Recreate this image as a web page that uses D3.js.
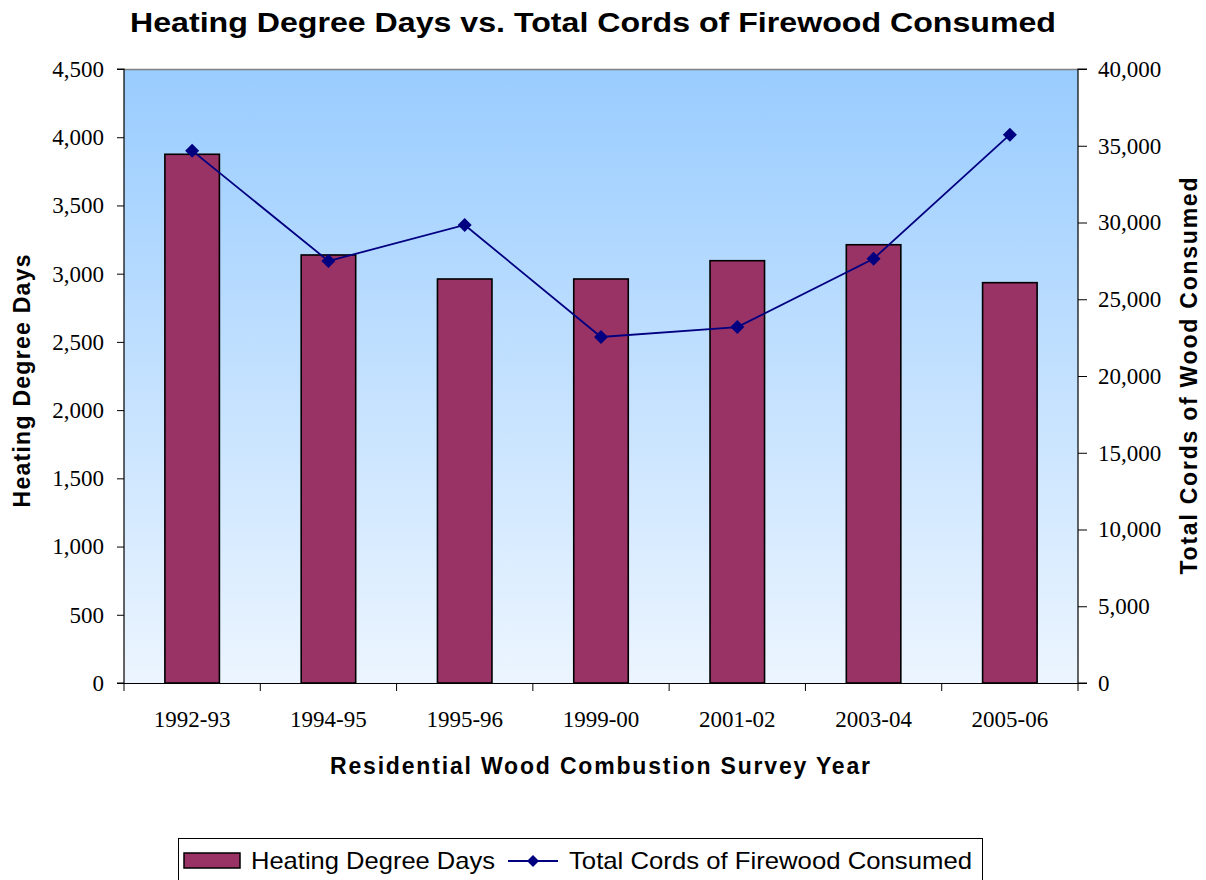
<!DOCTYPE html>
<html><head><meta charset="utf-8">
<script src="https://cdn.jsdelivr.net/npm/d3@7/dist/d3.min.js"></script>
<style>body{margin:0;background:#fff}</style>
</head><body>
<svg id="c" width="1206" height="880"></svg>
<script>
const categories = ["1992-93","1994-95","1995-96","1999-00","2001-02","2003-04","2005-06"];
const heatingDegreeDays = [3875, 3137, 2961, 2961, 3095, 3212, 2934];
const cordsConsumed = [34680, 27490, 29840, 22540, 23190, 27640, 35720];
const leftTicks = [0,500,1000,1500,2000,2500,3000,3500,4000,4500];
const rightTicks = [0,5000,10000,15000,20000,25000,30000,35000,40000];

const svg = d3.select("#c");
const L = 124, R = 1078, T = 69, B = 683;
const defs = svg.append("defs");
const g = defs.append("linearGradient").attr("id","bg").attr("x1",0).attr("y1",0).attr("x2",0).attr("y2",1);
g.append("stop").attr("offset","0%").attr("stop-color","#99CCFF");
g.append("stop").attr("offset","100%").attr("stop-color","#ECF5FF");

svg.append("rect").attr("x",L).attr("y",T).attr("width",R-L).attr("height",B-T).attr("fill","url(#bg)");
svg.append("line").attr("x1",L).attr("x2",R).attr("y1",T+0.5).attr("y2",T+0.5).attr("stroke","#808080").attr("stroke-width",1.5);

const xb = d3.scaleBand().domain(categories).range([L,R]);
const yL = d3.scaleLinear().domain([0,4500]).range([B,T]);
const yR = d3.scaleLinear().domain([0,40000]).range([B,T]);

svg.selectAll("rect.bar").data(heatingDegreeDays).join("rect").attr("class","bar")
  .attr("x",(d,i)=>xb(categories[i]) + xb.bandwidth()*0.3)
  .attr("width",xb.bandwidth()*0.4)
  .attr("y",d=>yL(d)).attr("height",d=>B-yL(d))
  .attr("fill","#993366").attr("stroke","#000").attr("stroke-width",1.6);

const fmt = d3.format(",");
const axL = svg.append("g").attr("transform",`translate(${L},0)`)
  .call(d3.axisLeft(yL).tickValues(leftTicks).tickFormat(fmt).tickSize(7).tickPadding(13));
const axR = svg.append("g").attr("transform",`translate(${R},0)`)
  .call(d3.axisRight(yR).tickValues(rightTicks).tickFormat(fmt).tickSize(9).tickPadding(11));
const axB = svg.append("g").attr("transform",`translate(0,${B})`)
  .call(d3.axisBottom(xb).tickSize(0).tickPadding(28));
const bounds = categories.map(c=>xb(c)).concat([R]);
svg.append("g").selectAll("line").data(bounds).join("line")
  .attr("x1",d=>d).attr("x2",d=>d).attr("y1",B).attr("y2",B+8).attr("stroke","#000").attr("stroke-width",1);

[axL,axR,axB].forEach(a=>{
  a.selectAll("text").attr("font-family","'Liberation Serif','Times New Roman',serif").attr("font-size",23).attr("fill","#000");
  a.selectAll("path.domain").attr("stroke","#000").attr("stroke-width",1.2);
  a.selectAll(".tick line").attr("stroke","#000");
});
axB.select("path.domain").attr("d",`M${L},0.5H${R+9}`);
axL.select("path.domain").attr("d",`M-7,${B}H0V${T}H-7`);
axR.select("path.domain").attr("d",`M9,${T}H0V${B}H9`);

const diamond = "M0,-7L7,0L0,7L-7,0Z";
const line = d3.line().x((d,i)=>xb(categories[i])+xb.bandwidth()/2).y(d=>yR(d));
svg.append("path").datum(cordsConsumed).attr("d",line).attr("fill","none").attr("stroke","#000080").attr("stroke-width",1.8);
svg.selectAll("path.mk").data(cordsConsumed).join("path").attr("class","mk")
  .attr("d",diamond)
  .attr("transform",(d,i)=>`translate(${xb(categories[i])+xb.bandwidth()/2},${yR(d)})`)
  .attr("fill","#000080");

const sans = "'Liberation Sans',Arial,sans-serif";
svg.append("text").attr("x",593).attr("y",32).attr("text-anchor","middle")
  .attr("font-family",sans).attr("font-weight","bold").attr("font-size",28)
  .attr("textLength",926).attr("lengthAdjust","spacingAndGlyphs").text("Heating Degree Days vs. Total Cords of Firewood Consumed");
svg.append("text").attr("x",600).attr("y",774).attr("text-anchor","middle")
  .attr("font-family",sans).attr("font-weight","bold").attr("font-size",23)
  .attr("textLength",540).attr("lengthAdjust","spacing").text("Residential Wood Combustion Survey Year");
svg.append("text").attr("transform","translate(30,381) rotate(-90)").attr("text-anchor","middle")
  .attr("font-family",sans).attr("font-weight","bold").attr("font-size",23)
  .attr("textLength",253).attr("lengthAdjust","spacing").text("Heating Degree Days");
svg.append("text").attr("transform","translate(1197,376) rotate(-90)").attr("text-anchor","middle")
  .attr("font-family",sans).attr("font-weight","bold").attr("font-size",23)
  .attr("textLength",397).attr("lengthAdjust","spacing").text("Total Cords of Wood Consumed");

// legend
const lg = svg.append("g");
lg.append("rect").attr("x",178.5).attr("y",838.5).attr("width",804).attr("height",45).attr("fill","#fff").attr("stroke","#000").attr("stroke-width",1);
lg.append("rect").attr("x",184).attr("y",853).attr("width",56).attr("height",15).attr("fill","#993366").attr("stroke","#000").attr("stroke-width",1.5);
lg.append("text").attr("x",251).attr("y",869).attr("font-family",sans).attr("font-size",24).attr("textLength",244).attr("lengthAdjust","spacingAndGlyphs").text("Heating Degree Days");
lg.append("line").attr("x1",508).attr("x2",558).attr("y1",861).attr("y2",861).attr("stroke","#000080").attr("stroke-width",1.8);
lg.append("path").attr("d","M0,-6L6,0L0,6L-6,0Z").attr("transform","translate(533,861)").attr("fill","#000080");
lg.append("text").attr("x",569).attr("y",869).attr("font-family",sans).attr("font-size",24).attr("textLength",403).attr("lengthAdjust","spacingAndGlyphs").text("Total Cords of Firewood Consumed");
</script>
</body></html>
